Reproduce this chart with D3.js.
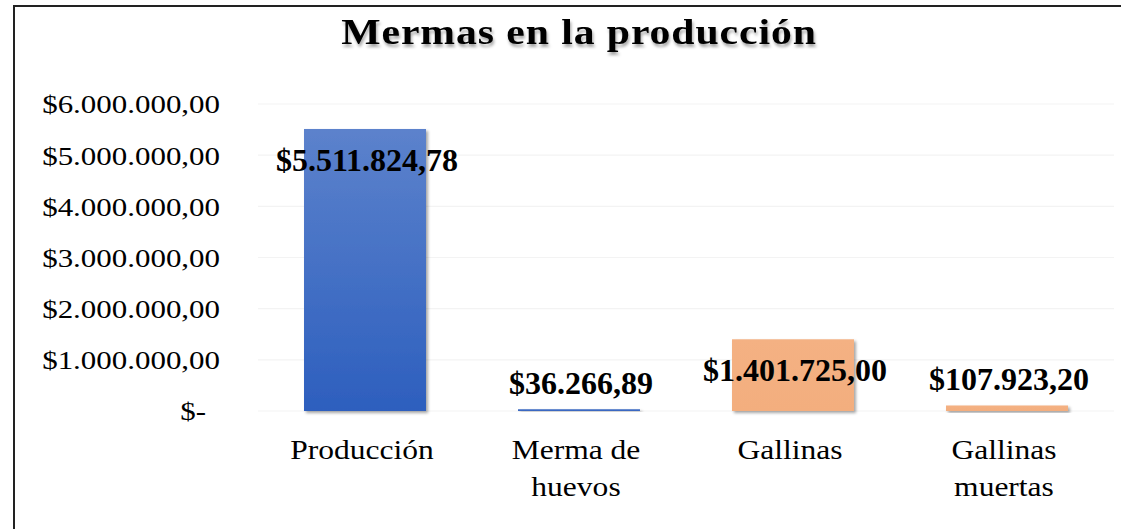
<!DOCTYPE html>
<html>
<head>
<meta charset="utf-8">
<script src="https://cdn.jsdelivr.net/npm/d3@7"></script>
<style>
  html, body { margin: 0; padding: 0; background: #fff; }
  svg { display: block; }
  text { font-family: "Liberation Serif", "Times New Roman", serif; fill: #000; }
</style>
</head>
<body>
<div id="chart-area"></div>
<script>
// data
const categories = ["Producción", "Merma de huevos", "Gallinas", "Gallinas muertas"];
const categoryLines = [["Producción"], ["Merma de", "huevos"], ["Gallinas"], ["Gallinas", "muertas"]];
const values = [5511824.78, 36266.89, 1401725.00, 107923.20];
const yTicks = [0, 1000000, 2000000, 3000000, 4000000, 5000000, 6000000];
const chartTitle = "Mermas en la producción";

const totalWidth = 1121;
const totalHeight = 529;
const plotLeft = 258, plotRight = 1114;
const plotTop = 104, plotBottom = 411;
const SX = 1.19; // the picture's text is a bit wide

const locale = d3.formatLocale({ decimal: ",", thousands: ".", grouping: [3], currency: ["$", ""] });
const money = locale.format("$,.2f");

const svg = d3.select("#chart-area")
  .append("svg")
    .attr("width", totalWidth)
    .attr("height", totalHeight);

svg.append("rect")
  .attr("width", totalWidth)
  .attr("height", totalHeight)
  .attr("fill", "#fff");

const defs = svg.append("defs");

const blueGrad = defs.append("linearGradient")
  .attr("id", "blueGrad")
  .attr("x1", 0).attr("y1", 0).attr("x2", 0).attr("y2", 1);
blueGrad.append("stop").attr("offset", "0%").attr("stop-color", "#5c82cc");
blueGrad.append("stop").attr("offset", "100%").attr("stop-color", "#2d5fbe");

const orangeGrad = defs.append("linearGradient")
  .attr("id", "orangeGrad")
  .attr("x1", 0).attr("y1", 0).attr("x2", 0).attr("y2", 1);
orangeGrad.append("stop").attr("offset", "0%").attr("stop-color", "#f4b183");
orangeGrad.append("stop").attr("offset", "100%").attr("stop-color", "#f3ae7e");

defs.append("filter")
    .attr("id", "barShadow")
    .attr("x", "-20%").attr("y", "-20%").attr("width", "140%").attr("height", "140%")
  .append("feDropShadow")
    .attr("dx", 2).attr("dy", 2)
    .attr("stdDeviation", 1.5)
    .attr("flood-color", "#000")
    .attr("flood-opacity", 0.35);

defs.append("filter")
    .attr("id", "titleShadow")
    .attr("x", "-10%").attr("y", "-30%").attr("width", "120%").attr("height", "170%")
  .append("feDropShadow")
    .attr("dx", 1).attr("dy", 3)
    .attr("stdDeviation", 1.5)
    .attr("flood-color", "#000")
    .attr("flood-opacity", 0.35);

// frame (top and left edges show)
svg.append("line")
  .attr("x1", 14).attr("x2", totalWidth)
  .attr("y1", 6).attr("y2", 6)
  .attr("stroke", "#222").attr("stroke-width", 2);
svg.append("line")
  .attr("x1", 14).attr("x2", 14)
  .attr("y1", 5).attr("y2", totalHeight)
  .attr("stroke", "#222").attr("stroke-width", 2);

// title
svg.append("g")
    .attr("transform", "translate(579,44) scale(" + SX + ",1)")
  .append("text")
    .attr("text-anchor", "middle")
    .attr("font-size", "35px")
    .attr("font-weight", "bold")
    .attr("letter-spacing", "0.8px")
    .attr("filter", "url(#titleShadow)")
    .text(chartTitle);

// scales
const xScale = d3.scaleBand()
  .domain(categories)
  .range([plotLeft, plotRight])
  .paddingInner(0.43)
  .paddingOuter(0.215);

const yScale = d3.scaleLinear()
  .domain([0, 6000000])
  .range([plotBottom, plotTop]);

const fillFor = d3.scaleOrdinal()
  .domain(categories)
  .range(["url(#blueGrad)", "url(#blueGrad)", "url(#orangeGrad)", "url(#orangeGrad)"]);

// gridlines
svg.append("g")
  .selectAll("line")
  .data(yTicks)
  .enter()
  .append("line")
    .attr("x1", plotLeft).attr("x2", plotRight)
    .attr("y1", d => yScale(d)).attr("y2", d => yScale(d))
    .attr("stroke", "#f3f3f3")
    .attr("stroke-width", 1.2);

// y axis
const yAxisCall = d3.axisLeft(yScale)
  .tickValues(yTicks)
  .tickSize(0)
  .tickFormat(d => d === 0 ? "$-" : money(d));

const yAxis = svg.append("g")
  .attr("class", "y axis")
  .attr("transform", "translate(" + plotLeft + ",0)")
  .call(yAxisCall);

yAxis.select(".domain").remove();
yAxis.selectAll(".tick text")
  .attr("font-size", "26px")
  .attr("font-family", "\"Liberation Serif\", \"Times New Roman\", serif")
  .attr("fill", "#000")
  .attr("transform", "scale(" + SX + ",1)")
  .attr("x", d => (d === 0 ? -52 : -38) / SX)
  .attr("dy", "0.34em");

// bars
const data = categories.map((c, i) => ({ category: c, value: values[i], lines: categoryLines[i] }));

svg.append("g")
  .selectAll("rect")
  .data(data)
  .enter()
  .append("rect")
    .attr("x", d => xScale(d.category))
    .attr("y", d => yScale(d.value))
    .attr("width", xScale.bandwidth())
    .attr("height", d => yScale(0) - yScale(d.value))
    .attr("fill", d => fillFor(d.category))
    .attr("filter", "url(#barShadow)");

// data labels
svg.append("g")
  .selectAll("text")
  .data(data)
  .enter()
  .append("text")
    .attr("x", d => xScale(d.category) + xScale.bandwidth() / 2 + 2)
    .attr("y", d => d.value > 1000000 ? yScale(d.value) + 42 : yScale(d.value) - 15)
    .attr("text-anchor", "middle")
    .attr("font-size", "32px")
    .attr("font-weight", "bold")
    .text(d => money(d.value));

// category labels
const catGroups = svg.append("g")
  .selectAll("g")
  .data(data)
  .enter()
  .append("g")
    .attr("transform", d => "translate(" + (xScale(d.category) + xScale.bandwidth() / 2 - 3) + ",459) scale(" + SX + ",1)");

catGroups.append("text")
  .attr("text-anchor", "middle")
  .attr("font-size", "26.5px")
  .selectAll("tspan")
  .data(d => d.lines)
  .enter()
  .append("tspan")
    .attr("x", 0)
    .attr("y", (d, i) => i * 37)
    .text(d => d);
</script>
</body>
</html>
